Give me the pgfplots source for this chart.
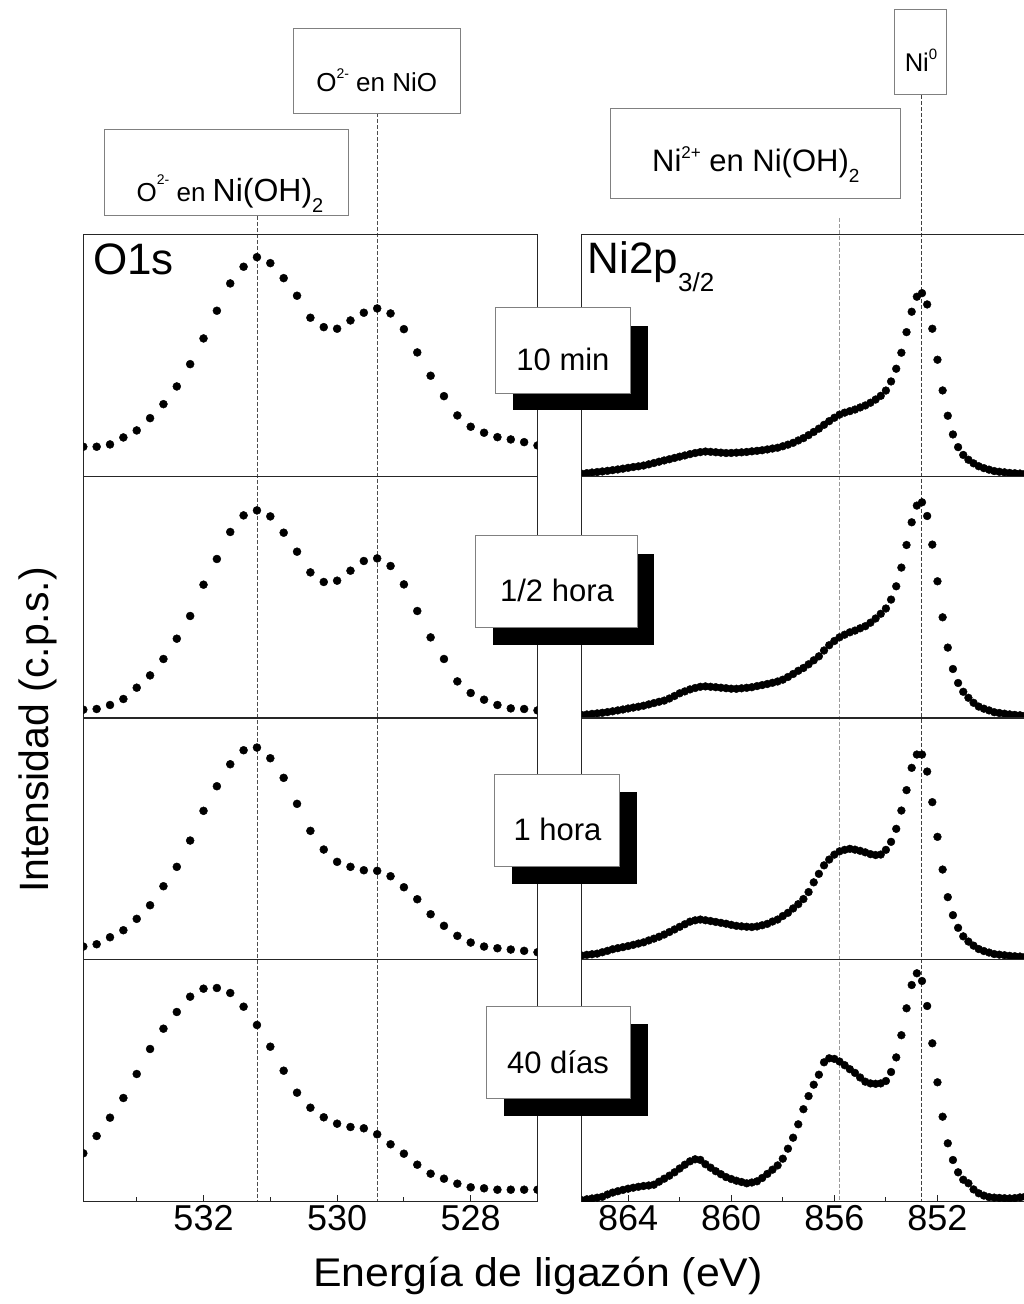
\documentclass[border=0pt]{standalone}
\usepackage{fontspec}
\setmainfont{Liberation Sans}
\usepackage{pgfplots}
\pgfplotsset{compat=1.18}
\usepackage{pgfplotstable}

\pgfplotstableread{
x p1 p2 p3 p4
533.8 29.4 8.3 13.3 48.4
533.6 29.4 9.0 15.6 65.7
533.4 31.7 13.0 22.6 84.0
533.2 38.7 19.0 29.6 103.7
533.0 45.7 30.3 41.0 127.7
532.8 58.0 42.6 54.6 152.7
532.6 72.0 59.0 73.6 173.0
532.4 89.7 79.3 93.0 189.7
532.2 112.0 102.0 119.3 205.0
532.0 137.7 133.3 149.0 213.0
531.8 165.4 159.0 173.6 213.7
531.6 192.7 186.0 195.6 208.7
531.4 209.4 202.6 209.6 195.0
531.2 219.0 207.6 212.3 176.7
531.0 213.0 201.6 201.6 155.0
530.8 198.0 185.3 182.0 131.0
530.6 180.4 166.3 156.0 109.0
530.4 158.4 145.6 129.0 94.0
530.2 149.0 136.0 110.3 84.4
530.0 147.4 137.3 98.0 78.0
529.8 155.7 147.3 93.0 74.7
529.6 163.4 157.0 89.6 73.4
529.4 167.7 159.6 89.0 67.4
529.2 162.7 152.0 83.6 57.4
529.0 147.0 133.6 72.6 48.0
528.8 123.7 107.0 60.6 37.0
528.6 100.4 80.6 45.6 28.0
528.4 80.0 59.0 34.0 23.0
528.2 60.7 36.6 24.0 18.0
528.0 49.4 25.0 17.3 14.4
527.8 43.4 18.3 13.3 13.4
527.6 39.0 13.0 11.6 12.0
527.4 36.7 9.6 10.3 12.0
527.2 34.0 9.0 9.0 12.0
527.0 30.7 7.6 7.6 12.0
}\otable

\pgfplotstableread{
x n1 n2 n3 n4
865.8 2.4 3.0 4.3 1.5
865.6 3.0 3.5 5.0 2.4
865.4 3.6 4.1 5.6 3.2
865.2 4.1 4.6 6.2 4.0
865.0 4.7 5.2 7.6 4.9
864.8 5.3 5.9 9.0 7.2
864.6 6.0 6.7 10.6 9.1
864.4 6.7 7.6 11.7 10.5
864.2 7.5 8.5 12.7 11.8
864.0 8.3 9.5 13.8 13.0
863.8 9.1 10.4 15.0 14.0
863.6 9.8 11.3 16.3 14.9
863.4 10.6 12.3 17.5 15.7
863.2 11.8 13.6 19.4 16.2
863.0 13.1 14.9 21.2 17.0
862.8 14.4 16.2 23.1 20.0
862.6 15.7 17.4 25.3 23.0
862.4 16.9 19.5 27.8 26.0
862.2 18.2 22.0 30.4 29.4
862.0 19.5 24.7 33.0 33.2
861.8 20.7 26.6 35.6 37.0
861.6 22.0 28.6 38.2 40.4
861.4 23.1 30.0 39.5 42.4
861.2 24.0 31.2 40.3 41.8
861.0 24.6 31.6 39.6 37.5
860.8 24.3 31.2 38.8 34.0
860.6 23.9 30.8 37.9 30.5
860.4 23.5 30.3 37.0 27.5
860.2 23.1 29.8 36.1 24.6
860.0 23.2 29.3 35.0 22.7
859.8 23.5 29.2 34.0 21.0
859.6 23.8 29.7 33.5 19.7
859.4 24.2 30.2 33.1 18.4
859.2 24.8 30.8 32.8 19.2
859.0 25.3 31.9 33.4 20.4
858.8 25.9 32.9 34.6 23.7
858.6 26.7 34.0 36.0 27.8
858.4 27.6 35.2 38.3 32.0
858.2 28.4 36.5 40.3 36.3
858.0 29.9 38.3 43.8 43.0
857.8 31.5 41.0 47.0 53.0
857.6 33.3 44.0 51.4 64.0
857.4 35.7 47.2 55.7 77.4
857.2 38.0 50.0 60.8 92.5
857.0 41.0 53.7 67.8 105.6
856.8 44.2 57.7 77.5 117.0
856.6 47.5 61.7 86.0 127.0
856.4 51.3 67.5 94.5 139.4
856.2 55.0 72.8 100.3 143.4
856.0 58.4 77.0 105.2 142.8
855.8 61.5 80.7 108.5 140.2
855.6 63.5 83.3 110.0 136.5
855.4 65.0 85.7 111.0 132.5
855.2 66.6 87.4 110.2 128.8
855.0 68.7 89.7 109.0 124.2
854.8 70.7 91.8 107.5 120.0
854.6 73.4 95.3 105.7 118.3
854.4 76.6 99.5 104.8 117.9
854.2 80.3 104.2 105.3 118.3
854.0 85.6 109.5 110.0 120.7
853.8 94.7 118.4 118.0 129.7
853.6 107.4 131.7 131.0 144.3
853.4 123.4 150.4 149.3 166.5
853.2 144.0 173.0 169.7 193.4
853.0 164.4 195.7 192.0 216.7
852.8 179.4 212.4 205.3 228.4
852.6 183.0 215.7 205.3 220.7
852.4 171.7 202.0 188.3 195.7
852.2 147.4 173.4 157.7 158.4
852.0 116.4 136.7 123.0 119.4
851.8 85.7 100.7 90.3 85.0
851.6 60.4 70.4 62.7 58.4
851.4 41.7 49.0 44.7 41.7
851.2 29.0 35.0 32.0 29.4
851.0 21.2 26.2 23.5 22.0
850.8 16.4 20.2 18.3 18.4
850.6 12.8 15.2 14.2 12.3
850.4 9.9 11.4 10.8 8.4
850.2 8.0 9.3 8.8 6.1
850.0 6.5 7.6 7.3 4.6
849.8 5.1 5.8 5.8 4.1
849.6 4.4 5.0 5.2 3.8
849.4 3.8 4.3 4.6 3.5
849.2 3.2 3.6 4.0 3.3
849.0 2.9 3.1 3.6 3.6
848.8 2.6 2.7 3.3 4.3
848.6 2.4 2.4 3.0 5.0
}\ntable

\pgfplotsset{
  panel/.style={scale only axis, height=241.85pt, ymin=0, ymax=241.85,
    ytick=\empty, xtick=\empty, x dir=reverse, anchor=south west,
    clip marker paths=true,
    axis line style={draw=black!85, line width=1.2pt},
    tick style={draw=black!85, line width=1pt},
    tick align=inside, xtick pos=left,
    major tick length=7pt, minor tick length=5pt,
    /pgf/number format/assume math mode=true,
    ticklabel style={font=\fontsize{36}{40}\selectfont}},
  opanel/.style={panel, width=454.2pt, xmin=527, xmax=533.8},
  npanel/.style={panel, width=458.9pt, xmin=848, xmax=865.8},
  dots/.style={only marks, mark=*, mark size=4pt, black,
    mark options={fill=black, draw=black}},
}

\begin{document}
\begin{tikzpicture}
% reference lines
\begin{scope}[line width=0.8pt, dash pattern=on 4pt off 2pt]
  \draw[black!70] (257pt,1088pt) -- (257pt,102.3pt);
  \draw[black!70] (377.2pt,1190.7pt) -- (377.2pt,102.3pt);
  \draw[black!40] (839pt,1086pt) -- (839pt,102.3pt);
  \draw[black!75] (921.5pt,1209pt) -- (921.5pt,102.3pt);
\end{scope}

% O1s panels
\begin{axis}[opanel, at={(83.3pt,827.85pt)}]
  \addplot[dots] table[x=x,y=p1]{\otable};
\end{axis}
\begin{axis}[opanel, at={(83.3pt,586pt)}]
  \addplot[dots] table[x=x,y=p2]{\otable};
\end{axis}
\begin{axis}[opanel, at={(83.3pt,344.15pt)}]
  \addplot[dots] table[x=x,y=p3]{\otable};
\end{axis}
\begin{axis}[opanel, at={(83.3pt,102.3pt)},
  xtick={528,530,532}, minor xtick={529,531,533}]
  \addplot[dots] table[x=x,y=p4]{\otable};
\end{axis}

% Ni2p panels
\begin{axis}[npanel, at={(581.7pt,827.85pt)}]
  \addplot[dots, mark size=3.9pt] table[x=x,y=n1]{\ntable};
\end{axis}
\begin{axis}[npanel, at={(581.7pt,586pt)}]
  \addplot[dots, mark size=3.9pt] table[x=x,y=n2]{\ntable};
\end{axis}
\begin{axis}[npanel, at={(581.7pt,344.15pt)}]
  \addplot[dots, mark size=3.9pt] table[x=x,y=n3]{\ntable};
\end{axis}
\begin{axis}[npanel, at={(581.7pt,102.3pt)},
  xtick={852,856,860,864}, minor xtick={850,854,858,862}]
  \addplot[dots, mark size=3.9pt] table[x=x,y=n4]{\ntable};
\end{axis}

% panel titles
\node[anchor=base west, inner sep=0pt, font=\fontsize{44}{48}\selectfont] at (93pt,1029pt) {O1s};
\node[anchor=base west, inner sep=0pt, font=\fontsize{44}{48}\selectfont] at (587.5pt,1030.7pt)
  {Ni2p\raisebox{-18.4pt}{\fontsize{26}{28}\selectfont 3/2}};

% time labels with shadows
\begin{scope}[box/.style={fill=white, draw=black!50, line width=1pt}]
  \fill[black] (512.7pt,893.5pt) rectangle (647.7pt,978.3pt);
  \draw[box] (495pt,910.7pt) rectangle (630pt,996pt);
  \node[anchor=base, font=\fontsize{31}{34}\selectfont] at (563pt,933.3pt) {10 min};

  \fill[black] (493pt,659pt) rectangle (654pt,750.3pt);
  \draw[box] (475.7pt,676.3pt) rectangle (637pt,768pt);
  \node[anchor=base, font=\fontsize{31}{34}\selectfont] at (557pt,702.3pt) {1/2 hora};

  \fill[black] (511.7pt,419.7pt) rectangle (636.7pt,512pt);
  \draw[box] (494pt,437pt) rectangle (619pt,529.5pt);
  \node[anchor=base, font=\fontsize{31}{34}\selectfont] at (557.5pt,463.7pt) {1 hora};

  \fill[black] (504.3pt,188pt) rectangle (648.3pt,279.7pt);
  \draw[box] (486.7pt,205pt) rectangle (630.7pt,297.3pt);
  \node[anchor=base, font=\fontsize{31}{34}\selectfont] at (558pt,230.7pt) {40 días};

  % species labels
  \draw[box] (104pt,1088pt) rectangle (348.3pt,1174pt);
  \node[anchor=base, inner sep=0pt] at (230pt,1102.3pt)
    {{\fontsize{26}{30}\selectfont O\raisebox{17pt}{\fontsize{14}{14}\selectfont 2-} en }{\fontsize{32}{36}\selectfont Ni(OH)\raisebox{-11pt}{\fontsize{20}{20}\selectfont 2}}};

  \draw[box] (293.3pt,1190.7pt) rectangle (460.7pt,1275.7pt);
  \node[anchor=base, inner sep=0pt, font=\fontsize{26}{30}\selectfont] at (376.7pt,1212.3pt)
    {O\raisebox{13pt}{\fontsize{14}{14}\selectfont 2-} en NiO};

  \draw[box] (610.3pt,1105pt) rectangle (900.3pt,1195.7pt);
  \node[anchor=base, inner sep=0pt, font=\fontsize{31}{34}\selectfont] at (755.8pt,1132.3pt)
    {Ni\raisebox{13pt}{\fontsize{17}{17}\selectfont 2+} en Ni(OH)\raisebox{-11pt}{\fontsize{19}{19}\selectfont 2}};

  \draw[box] (894.3pt,1209pt) rectangle (946.3pt,1294.7pt);
  \node[anchor=base, inner sep=0pt, font=\fontsize{25.6}{28}\selectfont] at (921pt,1232.3pt)
    {Ni\raisebox{11.7pt}{\fontsize{15}{15}\selectfont 0}};
\end{scope}

% axis titles
\node[anchor=base, inner sep=0pt, font=\fontsize{40}{44}\selectfont] at (538pt,17.3pt)
  {\scalebox{1.07}[1]{Energía de ligazón (eV)}};
\node[anchor=base, rotate=90, inner sep=0pt, font=\fontsize{41}{44}\selectfont] at (49pt,574pt)
  {Intensidad (c.p.s.)};

\pgfresetboundingbox
\path (0pt,0pt) rectangle (1024pt,1304pt);
\end{tikzpicture}
\end{document}
